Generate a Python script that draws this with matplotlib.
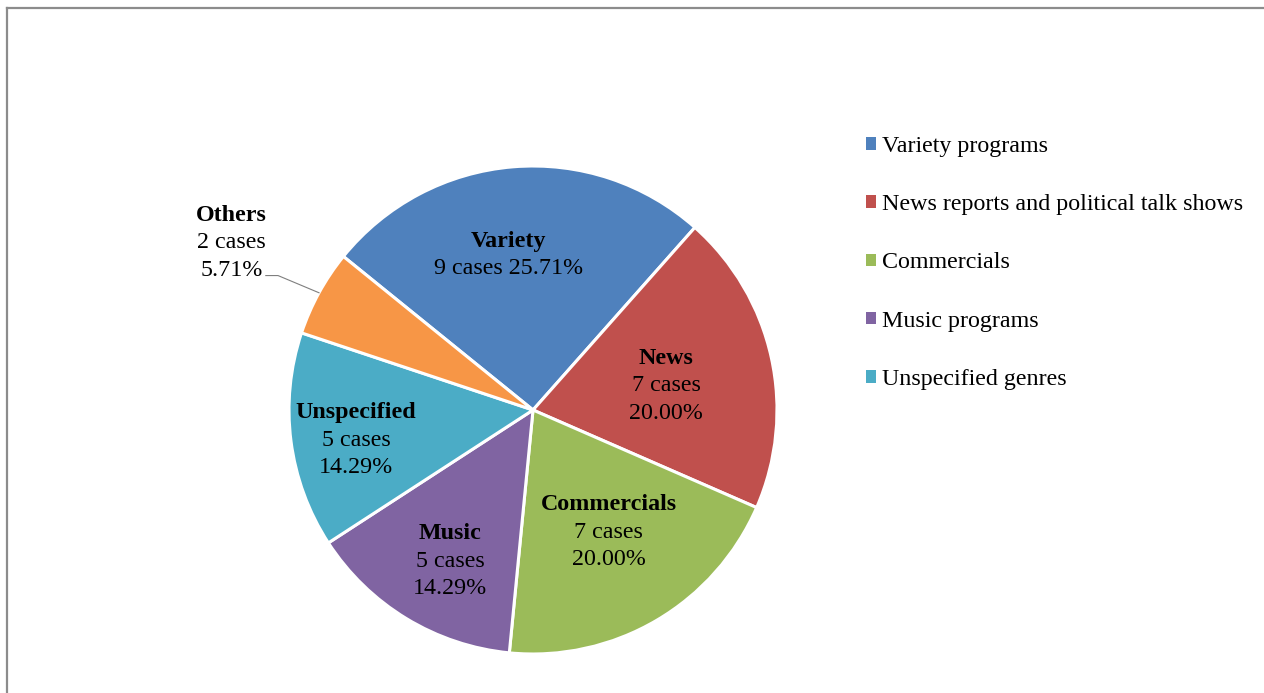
import numpy as np
import matplotlib.pyplot as plt
from matplotlib.lines import Line2D
from matplotlib.patches import Patch

plt.rcParams['font.family'] = ['Liberation Serif', 'DejaVu Serif']

# Données
noms = ['Variety', 'News', 'Commercials', 'Music', 'Unspecified', 'Others']
cas = [9, 7, 7, 5, 5, 2]
legende = ['Variety programs', 'News reports and political talk shows',
           'Commercials', 'Music programs', 'Unspecified genres']
couleurs = ['#4F81BD', '#C0504D', '#9BBB59', '#8064A2', '#4BACC6', '#F79646']

# Position des étiquettes (en unités du rayon)
pos_etiq = [(-0.10, 0.635), (0.545, 0.100), (0.31, -0.50),
            (-0.34, -0.62), (-0.725, -0.123), (-1.235, 0.686)]

W, H = 1264, 693
fig = plt.figure(figsize=(W / 100, H / 100), dpi=100)

# Cadre (haut et gauche visibles)
fig.add_artist(Line2D([7 / W, 7 / W], [0, (H - 8) / H], color='#8c8c8c', lw=1.6))
fig.add_artist(Line2D([7 / W, 1], [(H - 8) / H, (H - 8) / H], color='#8c8c8c', lw=1.6))

cx, cy, r = 533, H - 410, 244
ax = fig.add_axes([(cx - r) / W, (cy - r) / H, 2 * r / W, 2 * r / H])

wedges, _ = ax.pie(cas, colors=couleurs, startangle=141, counterclock=False,
                   radius=1, wedgeprops=dict(edgecolor='white', linewidth=2.2))
ax.set_xlim(-1, 1)
ax.set_ylim(-1, 1)
ax.set_aspect('equal')
ax.axis('off')

fs = 17.3
total = sum(cas)
lh = 19.8  # interligne en points
for w, nom, n, (xt, yt) in zip(wedges, noms, cas, pos_etiq):
    pct = f'{100 * n / total:.2f}%'
    if nom == 'Variety':
        lignes = [nom, f'{n} cases {pct}']
    else:
        lignes = [nom, f'{n} cases', pct]
    if nom == 'Others':
        # étiquette extérieure avec ligne de rappel
        ang = np.deg2rad((w.theta1 + w.theta2) / 2)
        xe, ye = np.cos(ang), np.sin(ang)
        ax.plot([xe, -1.045, -1.095], [ye, 0.551, 0.551], color='#7f7f7f', lw=0.8, clip_on=False)
    mid = (len(lignes) - 1) / 2
    for i, l in enumerate(lignes):
        ax.annotate(l, xy=(xt, yt), xytext=(0, (mid - i) * lh), textcoords='offset points',
                    ha='center', va='center', fontsize=fs,
                    fontweight='bold' if i == 0 else 'normal', annotation_clip=False)

handles = [Patch(facecolor=c) for c in couleurs[:5]]
fig.legend(handles, legende, loc='upper left', bbox_to_anchor=(866 / W, (H - 136) / H),
           frameon=False, fontsize=fs, handlelength=0.42, handleheight=0.42,
           handletextpad=0.25, labelspacing=1.55, borderpad=0, borderaxespad=0)

fig.savefig('out.png', dpi=100, facecolor='white')
